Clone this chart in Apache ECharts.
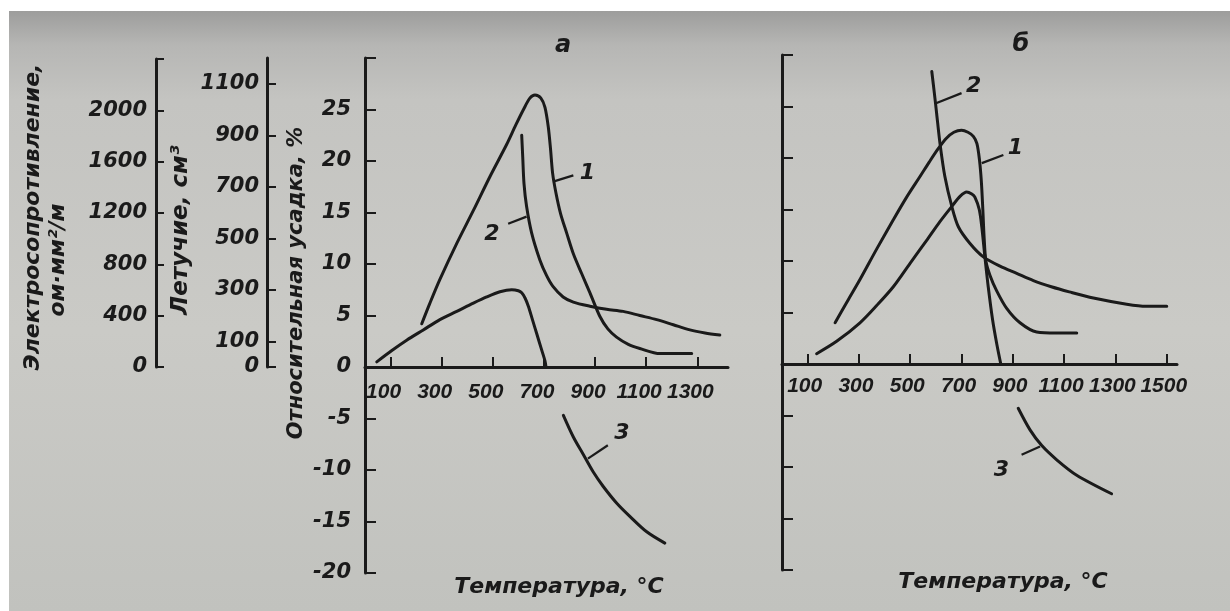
<!DOCTYPE html>
<html>
<head>
<meta charset="utf-8">
<script src="https://cdn.jsdelivr.net/npm/echarts@6/dist/echarts.min.js"></script>
<style>
  html, body { margin: 0; padding: 0; background: #fff; }
  #chart {
    position: absolute; left: 0; top: 0; width: 1230px; height: 611px;
    background:
      linear-gradient(#fff, #fff) 0 0 / 100% 11px no-repeat,
      linear-gradient(#fff, #fff) 0 0 / 9px 100% no-repeat,
      linear-gradient(to bottom, #9d9d9c 11px, #b6b6b4 45px, #c4c4c1 100px, #cacac6 330px, #c1c2be 611px);
  }
</style>
</head>
<body>
<div id="chart"></div>
<script>
// Temperature ticks (°C) for the two panels
const tempTicksA = [100, 300, 500, 700, 900, 1100, 1300];
const tempTicksB = [100, 300, 500, 700, 900, 1100, 1300, 1500];
// Volatile matter axis ticks (cm³)
const volatileTicks = [0, 100, 300, 500, 700, 900, 1100];
const curveNames = ['1', '2', '3'];

// Panel «а»: [temperature °C, value on the shrinkage scale]
const curve1A = [[222,4.2],[254,6.2],[293,8.5],[359,12.0],[424,15.2],[489,18.5],[554,21.6],[590,23.5],
  [620,25.0],[645,26.1],[665,26.4],[688,26.1],[704,25.2],[717,23.3],[726,21.1],[734,18.8],[747,16.9],
  [765,14.9],[789,13.0],[815,11.0],[847,9.1],[880,7.2],[919,4.9],[950,3.7],[984,2.9],[1030,2.2],
  [1075,1.8],[1154,1.3],[1278,1.3]];
const curve2A = [[613,22.5],[617,20.4],[622,17.8],[632,15.6],[652,13.0],[684,10.4],[710,8.9],[736,7.8],
  [775,6.8],[815,6.3],[880,5.9],[945,5.6],[1010,5.4],[1075,5.0],[1141,4.6],[1206,4.1],[1271,3.6],
  [1330,3.3],[1388,3.1]];
const curve3A = [[46,0.5],[105,1.6],[163,2.6],[228,3.6],[293,4.6],[359,5.4],[424,6.2],[476,6.8],
  [528,7.3],[574,7.5],[600,7.4],[613,7.2],[626,6.7],[639,5.9],[655,4.6],[671,3.3],[688,1.9],[704,0.6],
  [708,0.0], null,
  [776,-4.7],[815,-6.8],[854,-8.5],[893,-10.2],[932,-11.6],[984,-13.2],[1036,-14.5],[1102,-16.0],
  [1173,-17.1]];

// Panel «б»
const curve1B = [[207,4.0],[255,6.1],[304,8.2],[370,11.2],[434,14.0],[486,16.2],[538,18.2],[574,19.6],
  [609,20.9],[640,21.9],[670,22.5],[700,22.7],[725,22.5],[746,22.1],[760,21.4],[770,19.8],[777,17.8],
  [783,15.0],[788,12.3],[795,10.0],[811,8.6],[837,7.1],[876,5.4],[928,4.0],[993,3.1],[1070,3.0],[1149,3.0]];
const curve2B = [[584,28.4],[594,26.3],[603,24.3],[616,21.4],[635,18.2],[662,15.3],[688,13.3],
  [733,11.7],[785,10.4],[850,9.5],[915,8.8],[980,8.1],[1050,7.5],[1120,7.0],[1214,6.4],[1344,5.8],
  [1420,5.6],[1500,5.6]];
const curve3B = [[135,1.0],[213,2.2],[304,4.0],[370,5.7],[434,7.5],[500,9.8],[564,12.0],[615,13.8],
  [662,15.3],[695,16.3],[720,16.7],[740,16.5],[752,16.2],[769,15.0],[779,13.3],[791,10.4],[804,7.5],
  [821,4.3],[837,2.0],[853,0.0], null,
  [921,-4.3],[967,-6.4],[1012,-7.9],[1071,-9.3],[1149,-10.8],[1285,-12.6]];

// Leader ticks for the curve numbers: [point on curve, free end]
const leadersA = [[[736,18.0],[815,18.6]], [[632,14.6],[560,13.9]], [[872,-8.9],[950,-7.6]]];
const leadersB = [[[779,19.5],[863,20.3]], [[598,25.3],[700,26.3]], [[1006,-8.0],[934,-8.8]]];

const INK = '#1a1a1a';
const FONT = "'DejaVu Sans'";
const chart = echarts.init(document.getElementById('chart'), null, { renderer: 'canvas' });

// shrinkage scale shared by both panels
const Y_MIN = -20, Y_MAX = 30, PANEL_H = 515;
// the temperature axis runs along the zero line of the shrinkage scale
const zeroOffset = -PANEL_H * (0 - Y_MIN) / (Y_MAX - Y_MIN);

function curve(data, idx) {
  return {
    type: 'line', xAxisIndex: idx, yAxisIndex: idx, data: data,
    showSymbol: false, symbol: 'none', smooth: 0.3, connectNulls: false,
    lineStyle: { color: INK, width: 3, cap: 'round', join: 'round' }, silent: true, z: 3
  };
}
function leader(seg, idx) {
  return {
    type: 'line', xAxisIndex: idx, yAxisIndex: idx, data: seg,
    showSymbol: false, symbol: 'none', lineStyle: { color: INK, width: 2.2 }, silent: true, z: 3
  };
}
function tags(leaders, idx, placement) {
  return {
    type: 'scatter', xAxisIndex: idx, yAxisIndex: idx, symbolSize: 1,
    itemStyle: { color: 'transparent', opacity: 1 }, silent: true, z: 4,
    data: leaders.map((l, i) => ({
      value: l[1], name: curveNames[i],
      label: { position: placement[i].pos, offset: placement[i].off, distance: 4 }
    })),
    label: { show: true, formatter: '{b}', color: INK, opacity: 1, fontFamily: FONT, fontStyle: 'italic',
             fontWeight: 'bold', fontSize: 22 }
  };
}

const plain = v => String(v);
const tempLabel = { color: INK, fontFamily: "'Liberation Sans'", fontStyle: 'italic', fontWeight: 'bold', fontSize: 21, formatter: plain };
const valLabel = { color: INK, fontFamily: FONT, fontStyle: 'italic', fontWeight: 'bold', fontSize: 21 };
const inkLine = { show: true, onZero: false, lineStyle: { color: INK, width: 3 } };

function rotTitle(text, x, y, size) {
  return {
    type: 'text', x: x, y: y, rotation: Math.PI / 2, silent: true,
    style: { text: text, fill: INK, font: 'italic bold ' + size + 'px ' + FONT,
             align: 'center', verticalAlign: 'middle', textAlign: 'center', textVerticalAlign: 'middle' }
  };
}
function flatTitle(text, x, y, size) {
  return {
    type: 'text', x: x, y: y, silent: true,
    style: { text: text, fill: INK, font: 'italic bold ' + size + 'px ' + FONT,
             align: 'center', verticalAlign: 'middle', textAlign: 'center', textVerticalAlign: 'middle' }
  };
}

chart.setOption({
  animation: false,
  grid: [
    { left: 365, top: 58, width: 363, height: PANEL_H },   // panel а
    { left: 782, top: 55, width: 395, height: PANEL_H },   // panel б
    { left: 156, top: 59, width: 1, height: 308 },         // electrical resistance scale
    { left: 267, top: 58, width: 1, height: 309 }          // volatile matter scale
  ],
  xAxis: [
    { gridIndex: 0, type: 'value', min: 0, max: 1420, offset: zeroOffset, axisLine: inkLine, splitLine: { show: false },
      axisTick: { inside: true, length: 10, customValues: tempTicksA, lineStyle: { color: INK, width: 2 } },
      axisLabel: Object.assign({ customValues: tempTicksA, margin: 15, padding: [0, 14, 0, 0] }, tempLabel) },
    { gridIndex: 1, type: 'value', min: 0, max: 1540, offset: zeroOffset, axisLine: inkLine, splitLine: { show: false },
      axisTick: { inside: true, length: 10, customValues: tempTicksB, lineStyle: { color: INK, width: 2 } },
      axisLabel: Object.assign({ customValues: tempTicksB, margin: 12, padding: [0, 6, 0, 0] }, tempLabel) },
    { gridIndex: 2, type: 'value', show: false },
    { gridIndex: 3, type: 'value', show: false }
  ],
  yAxis: [
    { gridIndex: 0, type: 'value', min: Y_MIN, max: Y_MAX, interval: 5, splitLine: { show: false },
      axisLine: inkLine,
      axisTick: { inside: true, length: 11, lineStyle: { color: INK, width: 2 } },
      axisLabel: Object.assign({ margin: 14, formatter: v => (v === Y_MAX ? '' : String(v)) }, valLabel) },
    { gridIndex: 1, type: 'value', min: Y_MIN, max: Y_MAX, interval: 5, splitLine: { show: false },
      axisLine: inkLine,
      axisTick: { inside: true, length: 11, lineStyle: { color: INK, width: 2 } },
      axisLabel: { show: false } },
    { gridIndex: 2, type: 'value', min: 0, max: 2400, interval: 400, splitLine: { show: false },
      axisLine: inkLine,
      axisTick: { inside: true, length: 8, lineStyle: { color: INK, width: 2 } },
      axisLabel: Object.assign({ margin: 9, formatter: v => (v === 2400 ? '' : String(v)) }, valLabel) },
    { gridIndex: 3, type: 'value', min: 0, max: 1200, splitLine: { show: false },
      axisLine: inkLine,
      axisTick: { inside: true, length: 9, customValues: volatileTicks, lineStyle: { color: INK, width: 2 } },
      axisLabel: Object.assign({ margin: 8, customValues: volatileTicks, formatter: plain }, valLabel) }
  ],
  series: [
    curve(curve1A, 0), curve(curve2A, 0), curve(curve3A, 0),
    curve(curve1B, 1), curve(curve2B, 1), curve(curve3B, 1),
    ...leadersA.map(s => leader(s, 0)),
    ...leadersB.map(s => leader(s, 1)),
    tags(leadersA, 0, [{ pos: 'right', off: [2, -2] }, { pos: 'left', off: [-4, 10] }, { pos: 'right', off: [2, -12] }]),
    tags(leadersB, 1, [{ pos: 'right', off: [0, -7] }, { pos: 'right', off: [0, -7] }, { pos: 'left', off: [-8, 16] }])
  ],
  graphic: [
    rotTitle('Электросопротивление,', 33, 217, 22),
    rotTitle('ом·мм²/м', 58, 260, 22),
    rotTitle('Летучие, см³', 181, 230, 23),
    rotTitle('Относительная усадка, %', 297, 283, 21),
    flatTitle('Температура, °С', 559, 587, 22),
    flatTitle('Температура, °С', 1003, 582, 22),
    flatTitle('а', 563, 46, 24),
    flatTitle('б', 1021, 45, 24)
  ]
});
</script>
</body>
</html>
